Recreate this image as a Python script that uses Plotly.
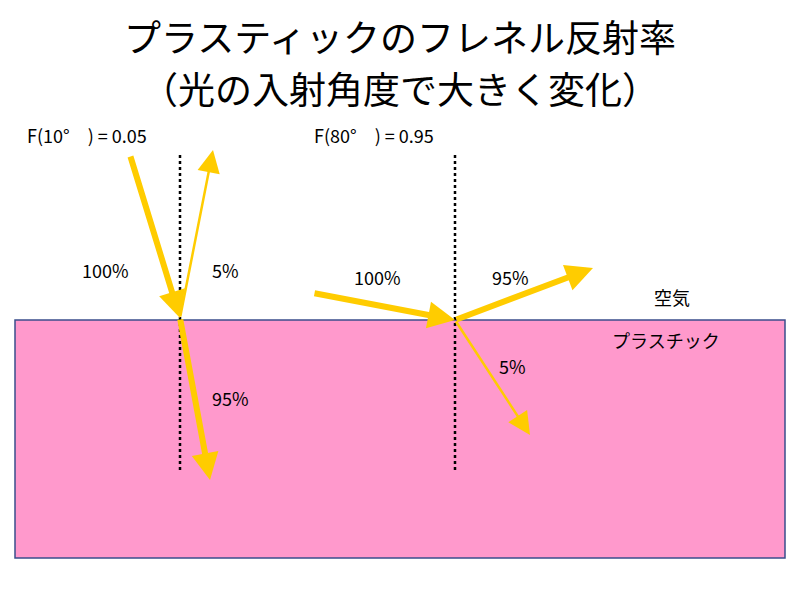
import plotly.graph_objects as go

# Data (pixel-space diagram coordinates)
arrow_starts_x = [130, 180, 180, 313, 455, 455]
arrow_starts_y = [155, 318, 318, 293, 320, 320]
arrow_ends_x = [180, 213, 210, 455, 593, 530]
arrow_ends_y = [318, 150, 480, 320, 268, 435]
arrow_widths = [6, 2.5, 6, 6, 6, 2.5]
normal_x = [180, 455]
labels = ["F(10°　) = 0.05", "100%", "5%", "95%", "F(80°　) = 0.95", "100%", "95%", "5%", "空気", "プラスチック"]
label_x = [25, 80, 210, 210, 312, 352, 490, 497, 652, 610]
label_y = [135, 270, 270, 398, 135, 277, 277, 366, 297, 340]

FONT = "Noto Sans CJK JP"
fig = go.Figure()
fig.add_shape(type="rect", x0=15, x1=785, y0=320, y1=558, fillcolor="#FF99CC",
              line=dict(color="#3B4E8C", width=1.5), layer="below")
for nx in normal_x:
    fig.add_trace(go.Scatter(x=[nx, nx], y=[155, 470], mode="lines",
                             line=dict(color="black", width=2.5, dash="dot"), hoverinfo="skip"))
for sx, sy, ex, ey, w in zip(arrow_starts_x, arrow_starts_y, arrow_ends_x, arrow_ends_y, arrow_widths):
    fig.add_annotation(x=ex, y=ey, ax=sx, ay=sy, xref="x", yref="y", axref="x", ayref="y",
                       showarrow=True, arrowhead=2, arrowsize=0.9 if w > 3 else 1.8,
                       arrowwidth=w, arrowcolor="#FFCC00", text="")
for t, x, y in zip(labels, label_x, label_y):
    fig.add_annotation(x=x, y=y, text=t, showarrow=False, xanchor="left", yanchor="middle",
                       font=dict(family=FONT, size=18, color="black"))
fig.add_annotation(x=400, y=36, text="プラスティックのフレネル反射率", showarrow=False,
                   font=dict(family=FONT, size=37, color="black"))
fig.add_annotation(x=400, y=88, text="（光の入射角度で大きく変化）", showarrow=False,
                   font=dict(family=FONT, size=37, color="black"))
fig.update_xaxes(range=[8, 808], visible=False)
fig.update_yaxes(range=[608, 8], visible=False)
fig.update_layout(width=800, height=600, margin=dict(l=0, r=0, t=0, b=0),
                  plot_bgcolor="white", paper_bgcolor="white", showlegend=False)
fig.write_html("out.html")
